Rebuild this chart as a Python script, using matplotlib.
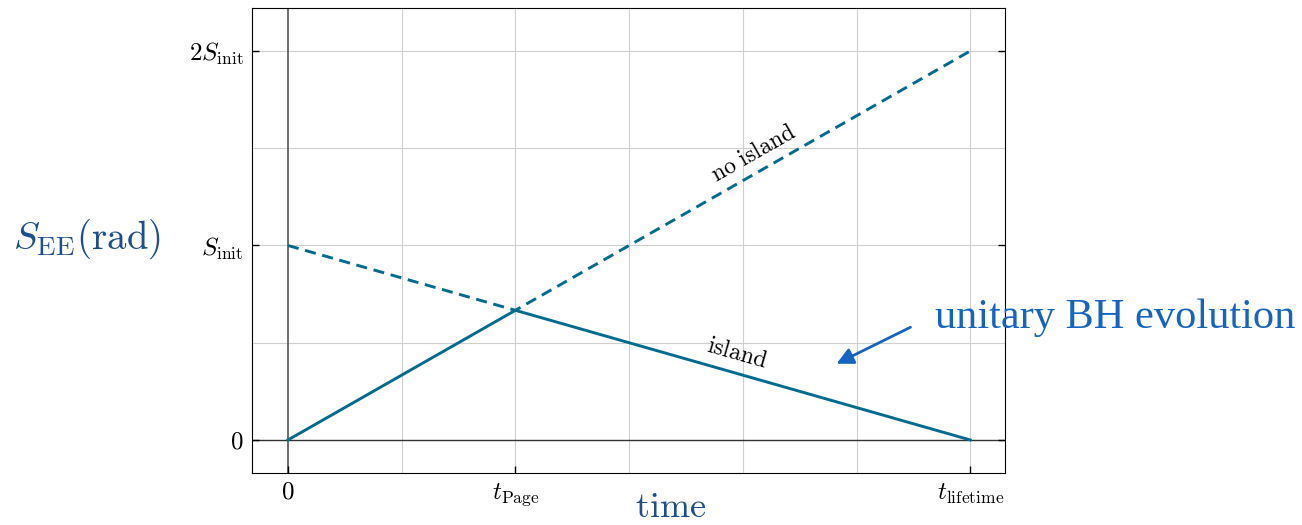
import matplotlib
matplotlib.use("Agg")
import matplotlib.pyplot as plt
import numpy as np

plt.rcParams['mathtext.fontset'] = 'cm'
plt.rcParams['font.family'] = 'serif'
plt.rcParams['font.serif'] = ['Liberation Serif', 'DejaVu Serif']

# lifetime normalised to 1, entropy in units of S_init
t_page = 1/3
t_life = 1.0
s_page = 2/3

t_noisland = [0, t_page, t_life]
s_noisland = [1.0, s_page, 2.0]
t_island = [0, t_page, t_life]
s_island = [0, s_page, 0]

xticks = [0, t_page, t_life]
xticklabels = ['$0$', r'$t_{\mathrm{Page}}$', r'$t_{\mathrm{lifetime}}$']
yticks = [0, 1, 2]
yticklabels = ['$0$', r'$S_{\mathrm{init}}$', r'$2S_{\mathrm{init}}$']

col = '#006b8f'
navy = '#1f4e8c'
blue = '#1565c0'

fig = plt.figure(figsize=(13.02, 5.25), dpi=100)
ax = fig.add_axes([0.1935, 0.099, 0.5784, 0.8857])

# grid at sixths of the lifetime / halves of S_init
for g in np.arange(1, 7) / 6:
    ax.axvline(g, color='#cfcfcf', lw=0.8, zorder=0)
for g in [0.5, 1, 1.5, 2]:
    ax.axhline(g, color='#cfcfcf', lw=0.8, zorder=0)
ax.axvline(0, color='#555555', lw=1.2, zorder=1)
ax.axhline(0, color='#333333', lw=1.0, zorder=1)

ax.plot(t_noisland, s_noisland, color=col, lw=2.1, ls=(0, (3.8, 2.3)), zorder=3)
ax.plot(t_island, s_island, color=col, lw=2.1, zorder=4)

ax.set_xlim(-0.0528, 1.051)
ax.set_ylim(-0.17, 2.221)
ax.set_xticks(xticks)
ax.set_xticklabels(xticklabels, fontsize=18)
ax.set_yticks(yticks)
ax.set_yticklabels(yticklabels, fontsize=18)
ax.tick_params(direction='in', length=5, width=1, right=True, top=False, pad=6)

ax.text(0.683, 1.47, r'$\mathrm{no\ island}$', rotation=29.6, fontsize=17,
        ha='center', va='center', rotation_mode='anchor')
ax.text(0.658, 0.445, r'$\mathrm{island}$', rotation=-15.9, fontsize=17,
        ha='center', va='center', rotation_mode='anchor')

fig.text(0.01, 0.545, r'$S_{\mathrm{EE}}(\mathrm{rad})$', color=navy, fontsize=28,
         ha='left', va='center')
fig.text(0.515, 0.016, r'$\mathrm{time}$', color=navy, fontsize=26,
         ha='center', va='baseline')
fig.text(0.718, 0.395, 'unitary BH evolution', color=blue, fontsize=30.5,
         ha='left', va='center', fontfamily='Liberation Serif', zorder=5)
fig.add_artist(matplotlib.patches.FancyArrowPatch(
    (913/1302, 1 - 326/525), (834/1302, 1 - 365/525), transform=fig.transFigure,
    arrowstyle='-|>,head_length=10,head_width=5', color=blue, lw=2, mutation_scale=1))

fig.savefig('out.png', dpi=100)
